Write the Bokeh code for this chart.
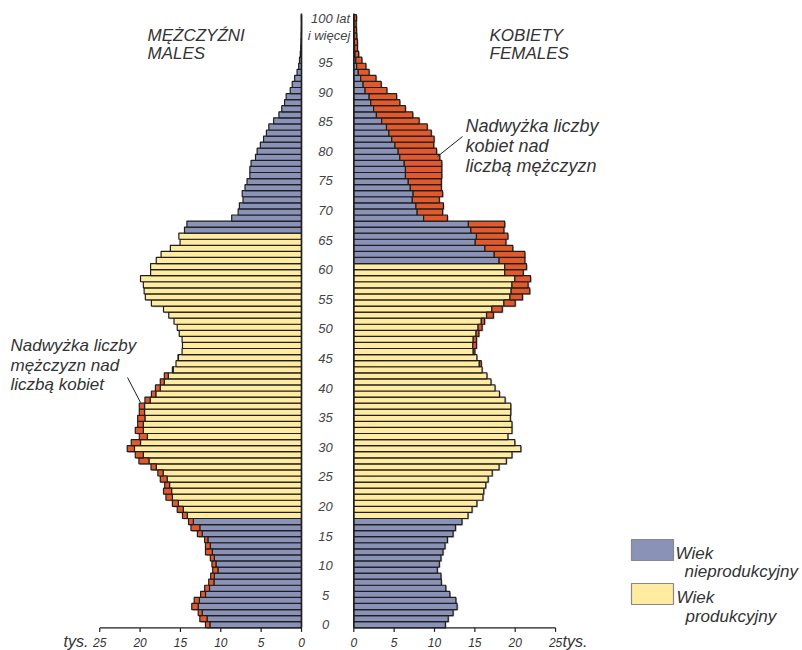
import numpy as np
from bokeh.plotting import figure
from bokeh.models import Range1d
from bokeh.core.properties import value
from bokeh.embed import file_html
from bokeh.resources import INLINE

# ---------------- data (thousands of persons) ----------------
ages = list(range(0, 101))
males = [11.9, 12.6, 12.8, 13.6, 13.3, 12.5, 12.0, 11.5, 11.25, 11.0,
         11.1, 11.3, 11.9, 11.9, 12.0, 12.9, 13.7, 14.0, 14.75, 15.4,
         16.0, 16.8, 17.1, 16.95, 17.5, 17.8, 18.65, 20.15, 20.6, 21.6,
         21.1, 20.1, 20.6, 20.3, 20.3, 20.1, 20.1, 19.4, 18.6, 18.1,
         17.5, 17.0, 16.0, 15.55, 15.3, 14.8, 14.75, 14.8, 15.15, 15.4,
         15.8, 16.45, 17.1, 18.6, 19.35, 19.5, 19.6, 19.95, 18.7, 18.7,
         18.0, 17.4, 16.25, 15.05, 15.2, 14.5, 14.2, 8.65, 7.85, 7.7,
         7.25, 7.35, 7.0, 6.75, 6.4, 6.4, 6.25, 5.7, 5.5, 5.1,
         4.7, 4.35, 4.05, 3.45, 2.8, 2.45, 2.1, 1.9, 1.4, 1.15,
         0.85, 0.55, 0.35, 0.25, 0.15, 0.1, 0.07, 0.05, 0.03, 0.02,
         0.03]
females = [11.35, 11.7, 12.3, 12.8, 12.65, 11.9, 11.4, 10.85, 10.8, 10.35,
           10.6, 10.8, 11.05, 11.3, 11.6, 12.3, 12.6, 13.4, 14.15, 14.65,
           15.25, 16.0, 16.1, 16.35, 16.65, 17.15, 18.0, 18.9, 19.6, 20.7,
           19.95, 19.1, 19.6, 19.6, 19.4, 19.45, 19.45, 18.75, 18.05, 17.5,
           17.0, 16.5, 15.9, 15.8, 15.25, 15.0, 15.2, 15.2, 15.5, 15.9,
           16.2, 17.3, 18.4, 20.0, 20.9, 21.8, 21.6, 21.9, 21.0, 21.4,
           21.2, 21.2, 19.7, 18.85, 19.1, 18.6, 18.7, 11.6, 11.0, 11.1,
           10.6, 11.0, 10.85, 10.85, 10.9, 10.9, 10.9, 10.65, 10.25, 9.9,
           9.95, 9.6, 9.1, 8.1, 7.3, 6.4, 5.7, 5.3, 4.1, 3.4,
           2.75, 1.9, 1.5, 1.0, 0.6, 0.45, 0.45, 0.37, 0.33, 0.3,
           0.33]
male_working_ages = (18, 64)
female_working_ages = (18, 59)
value_ticks = [0, 5, 10, 15, 20, 25]
age_ticks = list(range(0, 100, 5))

# ---------------- styles ----------------
BLUE = "#8a92b8"
YELLOW = "#ffeca0"
RED = "#e2592c"
EDGE = "#1e1e1e"
TXT = "#333333"
FONT = value("Liberation Sans")

W, H = 802, 650
PXU = 8.07   # px per thousand
PYU = 6.07   # px per year of age


def X(px):
    return (px - 327.0) / PXU


def Y(py):
    return (624.2 - py) / PYU


L0 = X(301.0)    # zero of males (left)
R0 = X(353.3)    # zero of females (right)

p = figure(width=W, height=H, output_backend="svg", toolbar_location=None,
           x_range=Range1d(X(0), X(W)), y_range=Range1d(Y(H), Y(0)),
           min_border=0, outline_line_color=None)
p.axis.visible = False
p.grid.visible = False
p.background_fill_color = "white"

a = np.array(ages, dtype=float)
m = np.array(males)
f = np.array(females)
common = np.minimum(m, f)
male_col = np.where((a >= male_working_ages[0]) & (a <= male_working_ages[1]), YELLOW, BLUE)
fem_col = np.where((a >= female_working_ages[0]) & (a <= female_working_ages[1]), YELLOW, BLUE)

dxs, dys = 1.2 / PXU, 1.1 / PYU
# shadows
p.quad(left=L0 - m + dxs, right=L0, bottom=a - 0.5 - dys, top=a + 0.5 - dys,
       fill_color="#b4b4b4", line_color=None)
p.quad(left=R0, right=R0 + f + dxs, bottom=a - 0.5 - dys, top=a + 0.5 - dys,
       fill_color="#b4b4b4", line_color=None)

# males
p.quad(left=L0 - common, right=L0, bottom=a - 0.5, top=a + 0.5,
       fill_color=male_col, line_color=EDGE, line_width=1.2)
mk = m > f
p.quad(left=(L0 - m)[mk], right=(L0 - f)[mk], bottom=(a - 0.5)[mk], top=(a + 0.5)[mk],
       fill_color=RED, line_color=EDGE, line_width=1.2)
# females
p.quad(left=R0, right=R0 + common, bottom=a - 0.5, top=a + 0.5,
       fill_color=fem_col, line_color=EDGE, line_width=1.2)
fk = f > m
p.quad(left=(R0 + m)[fk], right=(R0 + f)[fk], bottom=(a - 0.5)[fk], top=(a + 0.5)[fk],
       fill_color=RED, line_color=EDGE, line_width=1.2)

# central vertical lines
top_line = Y(13)
p.segment(x0=[L0, R0], y0=[-0.5, -0.5], x1=[L0, R0], y1=[top_line, top_line],
          line_color=EDGE, line_width=1.5)

# value axes
yax = Y(627.4)
tv = np.array(value_ticks, dtype=float)
p.segment(x0=[L0 - tv.max(), R0], y0=[yax, yax], x1=[L0, R0 + tv.max()], y1=[yax, yax],
          line_color=EDGE, line_width=1.3)
tick_len = 4.0 / PYU
p.segment(x0=L0 - tv, y0=yax, x1=L0 - tv, y1=yax - tick_len, line_color=EDGE, line_width=1.2)
p.segment(x0=R0 + tv, y0=yax, x1=R0 + tv, y1=yax - tick_len, line_color=EDGE, line_width=1.2)
ylab = Y(641.5)
p.text(x=L0 - tv, y=ylab, text=[str(v) for v in value_ticks], text_font=FONT,
       text_font_style="italic", text_font_size="12px", text_align="center",
       text_baseline="alphabetic", text_color=TXT)
p.text(x=R0 + tv, y=ylab, text=[str(v) for v in value_ticks], text_font=FONT,
       text_font_style="italic", text_font_size="12px", text_align="center",
       text_baseline="alphabetic", text_color=TXT)
p.text(x=[X(63), X(562)], y=[Y(641), Y(641)], text=["tys.", "tys."], text_font=FONT,
       text_font_style="italic", text_font_size="16px", text_align="left",
       text_baseline="alphabetic", text_color=TXT)

# age labels
ak = np.array(age_ticks, dtype=float)
p.text(x=X(325), y=Y(624.3 - ak * 5.92), text=[str(v) for v in age_ticks], text_font=FONT,
       text_font_style="italic", text_font_size="13px", text_align="center",
       text_baseline="middle", text_color="#444444")
p.text(x=[X(330), X(328.5)], y=[Y(18), Y(34.5)], text=["100 lat", "i więcej"], text_font=FONT,
       text_font_style="italic", text_font_size="13px", text_align="center",
       text_baseline="middle", text_color="#444444")

# titles
p.text(x=[X(147), X(147), X(489), X(489)], y=[Y(35), Y(53), Y(35), Y(53)],
       text=["MĘŻCZYŹNI", "MALES", "KOBIETY", "FEMALES"], text_font=FONT,
       text_font_style="italic", text_font_size="17px", text_align="left",
       text_baseline="alphabetic", text_color=TXT)

# annotations
p.text(x=[X(465)] * 3, y=[Y(125), Y(145), Y(165)],
       text=["Nadwyżka liczby", "kobiet nad", "liczbą mężczyzn"], text_font=FONT,
       text_font_style="italic", text_font_size="18px", text_align="left",
       text_baseline="alphabetic", text_color=TXT)
p.segment(x0=[X(462)], y0=[Y(136)], x1=[X(437)], y1=[Y(156)], line_color=EDGE, line_width=1)
p.text(x=[X(10)] * 3, y=[Y(345), Y(365), Y(384)],
       text=["Nadwyżka liczby", "mężczyzn nad", "liczbą kobiet"], text_font=FONT,
       text_font_style="italic", text_font_size="17px", text_align="left",
       text_baseline="alphabetic", text_color=TXT)
p.segment(x0=[X(127)], y0=[Y(377)], x1=[X(140)], y1=[Y(402)], line_color=EDGE, line_width=1)

# legend
p.quad(left=[X(631), X(631)], right=[X(673), X(673)], bottom=[Y(560), Y(604)], top=[Y(539), Y(583)],
       fill_color=[BLUE, YELLOW], line_color="#888888", line_width=1.2)
p.text(x=[X(675), X(684), X(676), X(685)], y=[Y(553), Y(571), Y(597), Y(616)],
       text=["Wiek", "nieprodukcyjny", "Wiek", "produkcyjny"], text_font=FONT,
       text_font_style="italic", text_font_size="17px", text_align="left",
       text_baseline="alphabetic", text_color=TXT)

open("out.html", "w").write(file_html(p, INLINE))
